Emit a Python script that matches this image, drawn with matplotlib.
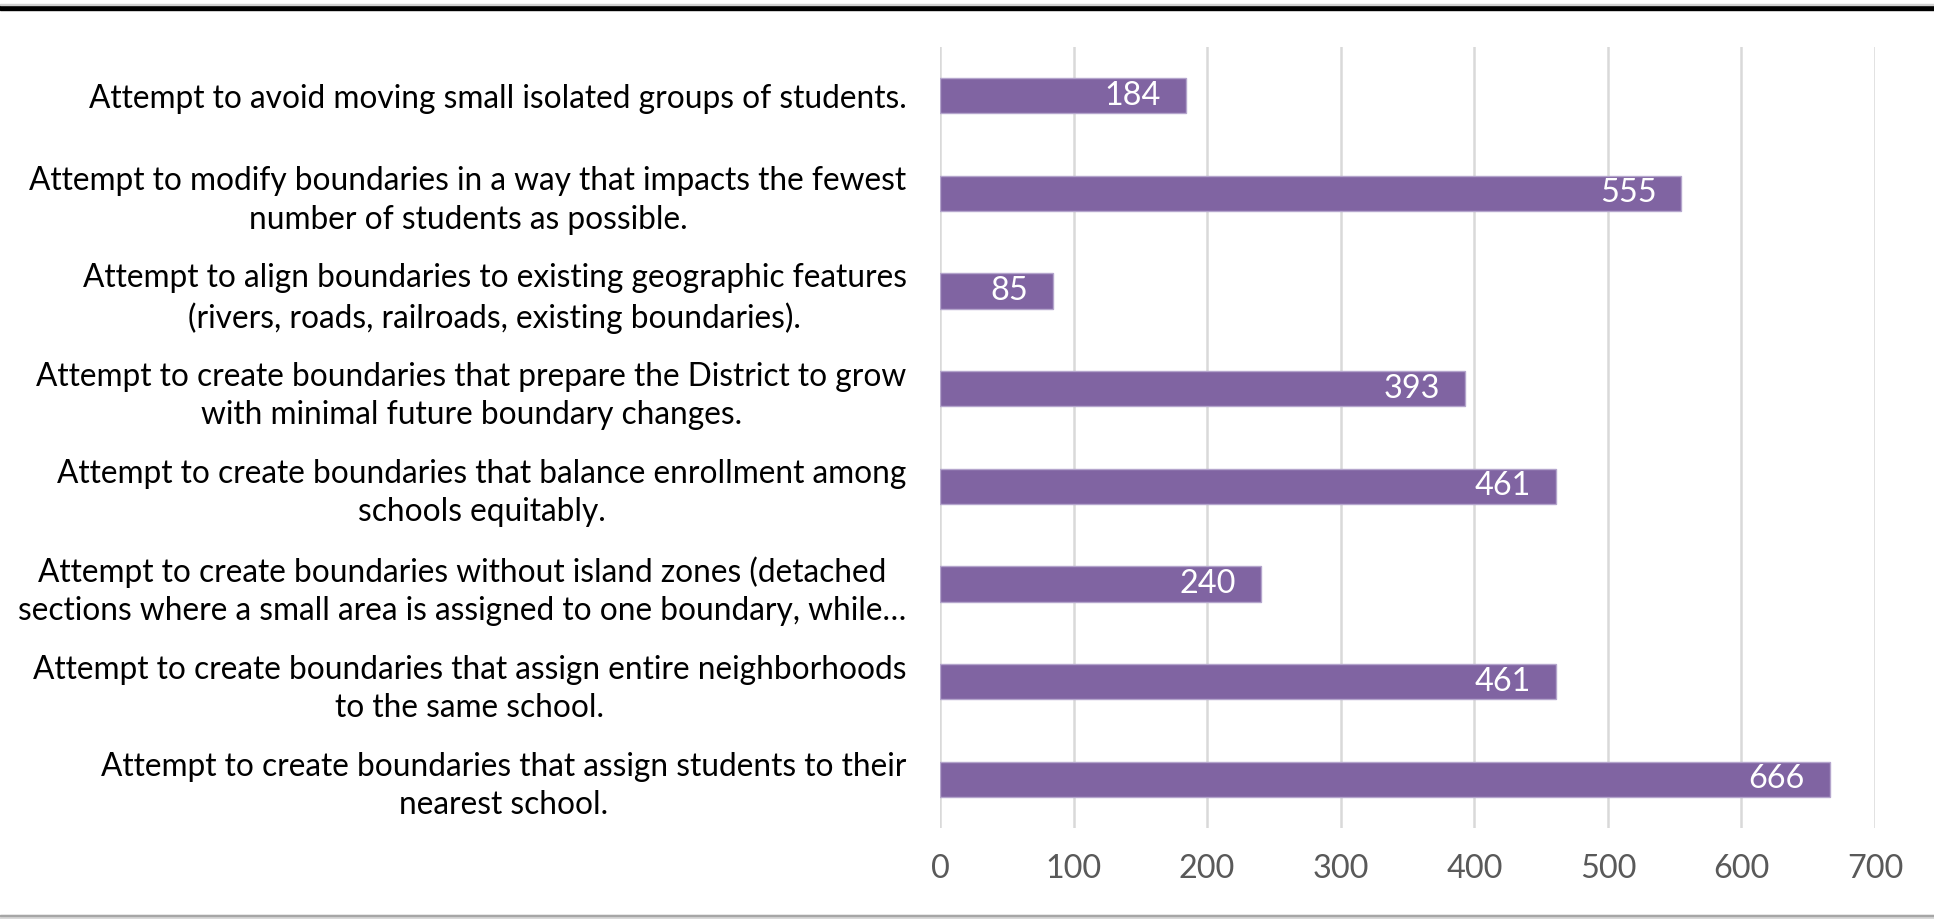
import matplotlib.pyplot as plt
from matplotlib.patches import Rectangle

plt.rcParams['font.family'] = ['Lato', 'DejaVu Sans']

categories = [
    "Attempt to avoid moving small isolated groups of students.",
    "Attempt to modify boundaries in a way that impacts the fewest\nnumber of students as possible.",
    "Attempt to align boundaries to existing geographic features\n(rivers, roads, railroads, existing boundaries).",
    "Attempt to create boundaries that prepare the District to grow\nwith minimal future boundary changes.",
    "Attempt to create boundaries that balance enrollment among\nschools equitably.",
    "Attempt to create boundaries without island zones (detached\nsections where a small area is assigned to one boundary, while\u2026",
    "Attempt to create boundaries that assign entire neighborhoods\nto the same school.",
    "Attempt to create boundaries that assign students to their\nnearest school.",
]
values = [184, 555, 85, 393, 461, 240, 461, 666]
x_ticks = [0, 100, 200, 300, 400, 500, 600, 700]

BAR = '#8064A2'
FS = 22.8

fig = plt.figure(figsize=(19.34, 9.19), dpi=100)
ax = fig.add_axes([0.486, 0.099, 0.4835, 0.8499])

ypos = list(range(len(values)))
bars = ax.barh(ypos, values, height=0.36, color=BAR, edgecolor='#B4A5CC',
               linewidth=1, zorder=3)

for b, v in zip(bars, values):
    ax.annotate(str(v), (b.get_width(), b.get_y() + b.get_height() / 2),
                xytext=(-18, 0), textcoords='offset points',
                ha='right', va='center', color='white', fontsize=23.3, zorder=4)

ax.set_xlim(0, 700)
ax.set_ylim(len(values) - 0.5, -0.5)
ax.set_xticks(x_ticks)
ax.set_yticks(ypos)
ax.set_yticklabels(categories, multialignment='center', fontsize=FS, color='black',
                   linespacing=1.34)
ax.tick_params(axis='y', length=0, pad=24)
ax.tick_params(axis='x', length=0, pad=19, labelsize=23.3, labelcolor='#595959')

ax.grid(axis='x', color='#D9D9D9', linewidth=1.8, zorder=0)
ax.set_axisbelow(True)
for s in ax.spines.values():
    s.set_visible(False)

# frame lines at top and bottom of the image
fig.patches.append(Rectangle((0, 1 - 10 / 919), 1, 5 / 919, transform=fig.transFigure,
                             color='black', zorder=5))
fig.patches.append(Rectangle((0, 1 - 5 / 919), 1, 1.2 / 919, transform=fig.transFigure,
                             color='#D0D0D0', zorder=5))
fig.patches.append(Rectangle((0, 0), 1, 4 / 919, transform=fig.transFigure,
                             color='#D9D9D9', zorder=5))
fig.patches.append(Rectangle((0, 3.5 / 919), 1, 1 / 919, transform=fig.transFigure,
                             color='#A6A6A6', zorder=5))

fig.savefig('out.png', dpi=100)
